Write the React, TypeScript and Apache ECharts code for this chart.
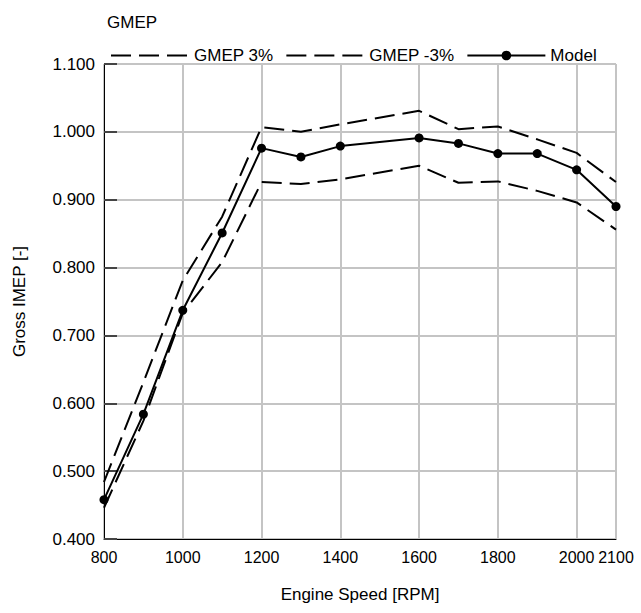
import React, { useEffect, useRef } from "react";
import * as echarts from "echarts";

const speeds = [800, 900, 1000, 1100, 1200, 1300, 1400, 1600, 1700, 1800, 1900, 2000, 2100];
const gmepPlus3 = [0.484, 0.631, 0.781, 0.875, 1.007, 1.0, 1.011, 1.031, 1.004, 1.008, 0.989, 0.969, 0.926];
const gmepMinus3 = [0.446, 0.574, 0.733, 0.808, 0.926, 0.923, 0.93, 0.95, 0.925, 0.927, 0.913, 0.896, 0.856];
const model = [0.458, 0.584, 0.737, 0.851, 0.976, 0.963, 0.979, 0.991, 0.983, 0.968, 0.968, 0.944, 0.89];

const FONT = "Liberation Sans, Arial, sans-serif";

export default function App() {
  const ref = useRef<HTMLDivElement>(null);
  useEffect(() => {
    document.body.style.margin = "0";
    const chart = echarts.init(ref.current!, null, { renderer: "svg" });
    const pts = (ys: number[]) => speeds.map((x, i) => [x, ys[i]]);
    chart.setOption({
      animation: false,
      backgroundColor: "#fff",
      textStyle: { fontFamily: FONT, color: "#000" },
      title: {
        text: "GMEP",
        left: 102,
        top: 9,
        textStyle: { fontFamily: FONT, fontSize: 17, fontWeight: "normal", color: "#000" },
      },
      legend: {
        left: 105,
        top: 42,
        itemWidth: 78,
        itemHeight: 12,
        itemGap: 12,
        textStyle: { fontFamily: FONT, fontSize: 17, color: "#000" },
        data: [
          { name: "GMEP 3%", itemStyle: { opacity: 0 } },
          { name: "GMEP -3%", itemStyle: { opacity: 0 } },
          { name: "Model" },
        ],
      },
      grid: {
        left: 104,
        right: 25,
        top: 64,
        bottom: 74,
        show: true,
        borderColor: "#000",
        borderWidth: 1,
      },
      xAxis: {
        type: "value",
        min: 800,
        max: 2100,
        interval: 200,
        name: "Engine Speed [RPM]",
        nameLocation: "middle",
        nameGap: 47,
        nameTextStyle: { fontFamily: FONT, fontSize: 17, color: "#000" },
        axisLine: { show: true, lineStyle: { color: "#000", width: 1 } },
        axisTick: { show: false },
        axisLabel: {
          fontFamily: FONT,
          fontSize: 16,
          color: "#000",
          margin: 10,
          formatter: (v: number) => String(v),
        },
        splitLine: { show: true, lineStyle: { color: "#c4c4c4", width: 2 } },
      },
      yAxis: {
        type: "value",
        min: 0.4,
        max: 1.1,
        interval: 0.1,
        name: "Gross IMEP [-]",
        nameLocation: "middle",
        nameGap: 76,
        nameTextStyle: { fontFamily: FONT, fontSize: 17, color: "#000" },
        axisLine: { show: true, lineStyle: { color: "#000", width: 1 } },
        axisTick: { show: true, inside: true, length: 13, lineStyle: { color: "#444", width: 2 } },
        axisLabel: {
          fontFamily: FONT,
          fontSize: 17,
          color: "#000",
          margin: 9,
          formatter: (v: number) => v.toFixed(3),
        },
        splitLine: { show: true, lineStyle: { color: "#c4c4c4", width: 2 } },
      },
      series: [
        {
          name: "GMEP 3%",
          type: "line",
          data: pts(gmepPlus3),
          symbol: "none",
          lineStyle: { color: "#000", width: 2, type: [20, 8] },
          itemStyle: { color: "#000" },
        },
        {
          name: "GMEP -3%",
          type: "line",
          data: pts(gmepMinus3),
          symbol: "none",
          lineStyle: { color: "#000", width: 2, type: [20, 8] },
          itemStyle: { color: "#000" },
        },
        {
          name: "Model",
          type: "line",
          data: pts(model),
          symbol: "circle",
          symbolSize: 9,
          lineStyle: { color: "#000", width: 2 },
          itemStyle: { color: "#000" },
        },
      ],
    });
    return () => chart.dispose();
  }, []);
  return <div ref={ref} style={{ width: 641, height: 613 }} />;
}
